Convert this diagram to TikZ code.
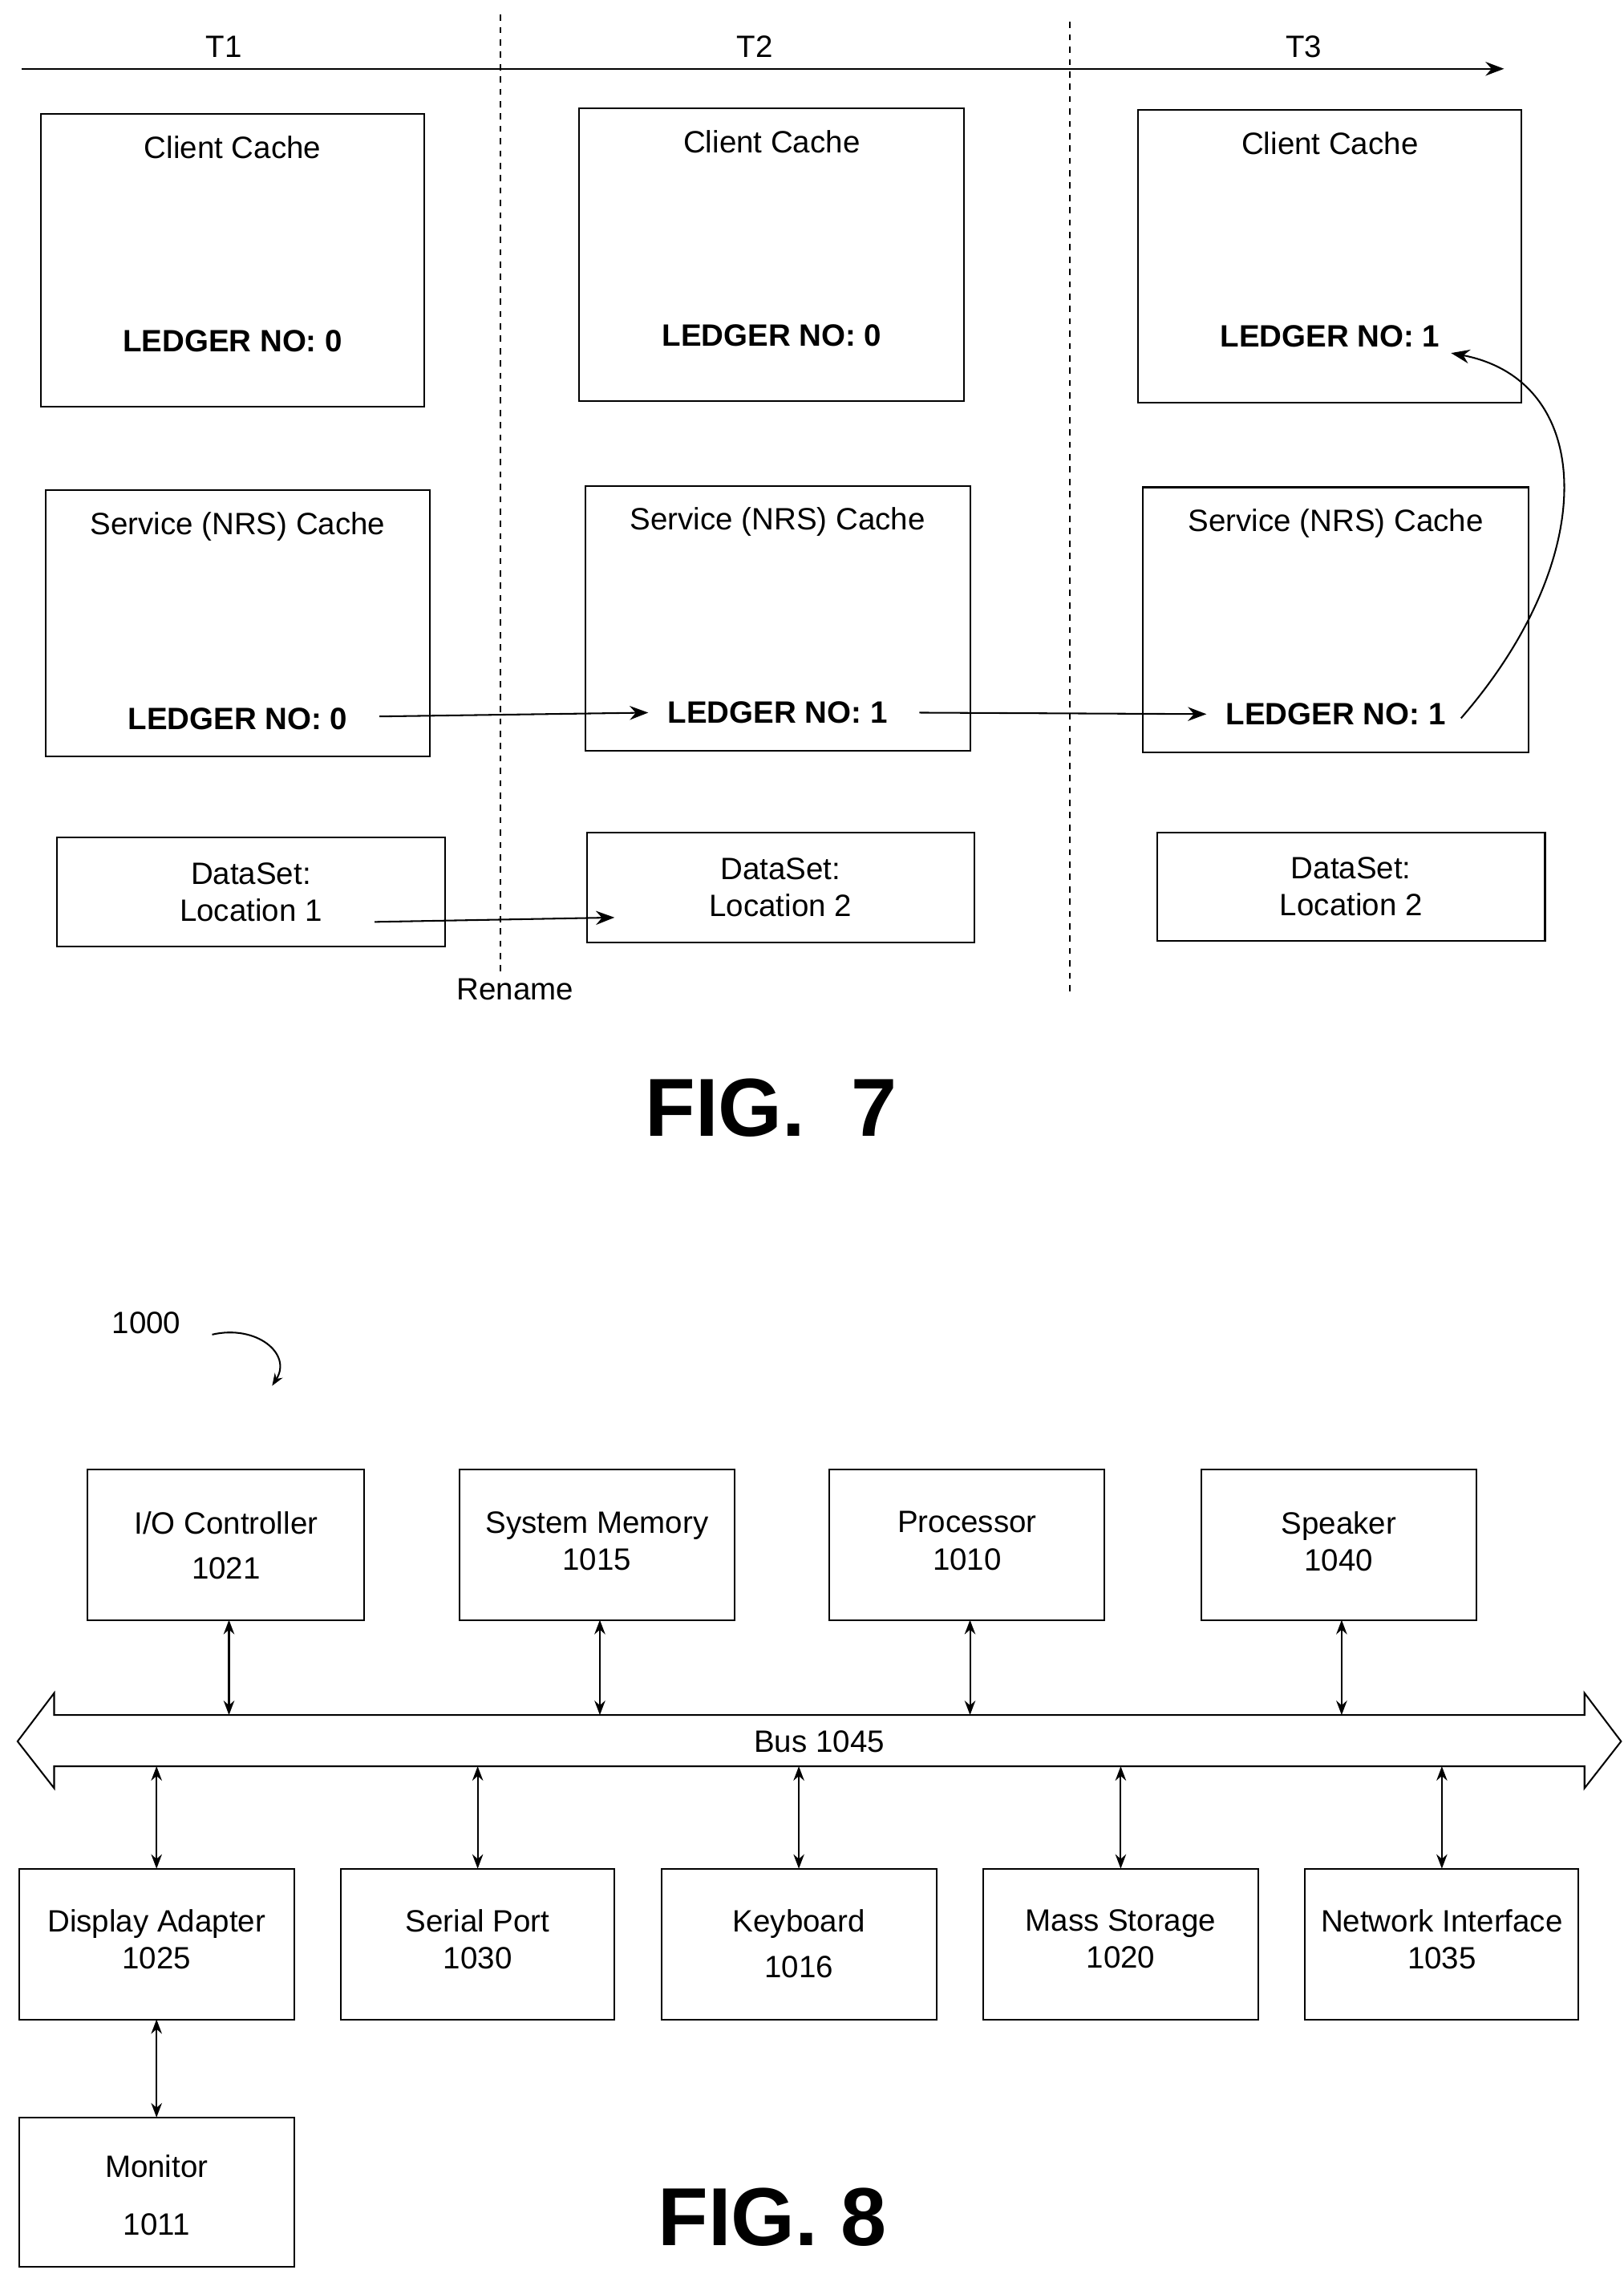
\documentclass[tikz,border=0pt]{standalone}
\usepackage{fontspec}
\setmainfont{Liberation Sans}
\usetikzlibrary{arrows.meta,positioning}
\tikzset{
  box/.style={draw, thick, inner sep=0pt},
  lbl/.style={font=\fontsize{15}{18}\selectfont},
  ledger/.style={font=\fontsize{15}{18}\selectfont\bfseries},
  arr/.style={thick, -{Stealth[length=9pt]}},
  darr/.style={thick, {Stealth[length=7pt]}-{Stealth[length=7pt]}},
  fig/.style={font=\fontsize{40}{44}\selectfont\bfseries}
}
\begin{document}
\begin{tikzpicture}[x=0.025cm, y=-0.025cm]
\useasboundingbox (0,0) rectangle (1110,1554);

% FIG. 7
\coordinate (tl) at (15,47);
\coordinate (tr) at (1028,47);
\draw[arr] (tl) -- (tr);
\node[lbl] (t1) at (153,32) {T1};
\node[lbl] (t2) at (516,32) {T2};
\node[lbl] (t3) at (891,32) {T3};
\draw[thick, dashed] (342,10) -- (342,665);
\draw[thick, dashed] (731,15) -- (731,678);

\foreach \n/\xa/\ya/\xb/\yb/\v in {1/28/78/290/278/0, 2/396/74/659/274/0, 3/778/75/1040/275/1}{
  \draw[box] (\xa,\ya) rectangle (\xb,\yb);
  \node[lbl, anchor=north] (cc\n) at ({(\xa+\xb)/2},\ya+10) {Client Cache};
  \node[ledger] (cl\n) at ({(\xa+\xb)/2},\yb-45) {LEDGER NO: \v};
}
\foreach \n/\xa/\ya/\xb/\yb/\v in {1/31/335/294/517/0, 2/400/332/663/513/1, 3/781/333/1045/514/1}{
  \draw[box] (\xa,\ya) rectangle (\xb,\yb);
  \node[lbl, anchor=north] (sc\n) at ({(\xa+\xb)/2},\ya+10) {Service (NRS) Cache};
  \node[ledger] (sl\n) at ({(\xa+\xb)/2},\yb-26) {LEDGER NO: \v};
}
\foreach \n/\xa/\ya/\xb/\yb/\loc in {1/39/572/304/647/1, 2/401/569/666/644/2, 3/791/569/1056/643/2}{
  \draw[box] (\xa,\ya) rectangle (\xb,\yb);
  \node[lbl, align=center] (ds\n) at ({(\xa+\xb)/2},{(\ya+\yb)/2}) {DataSet:\\Location \loc};
}
\draw[arr] ([xshift=12pt,yshift=1pt]sl1.east) -- ([xshift=-6pt]sl2.west);
\draw[arr] ([xshift=12pt]sl2.east) -- ([xshift=-6pt]sl3.west);
\draw[arr] ([xshift=4pt,yshift=-2pt]sl3.east) .. controls (1095,380) and (1090,260) .. ([xshift=2pt,yshift=-8pt]cl3.east);
\coordinate (dsa) at (256,630);
\coordinate (dsb) at (420,627);
\draw[arr] (dsa) -- (dsb);
\node[lbl] (rename) at (352,676) {Rename};
\node[fig] (fig7) at (527,757) {FIG.\ \ 7};

% FIG. 8
\node[lbl] (ref) at (100,904) {1000};
\coordinate (refend) at (186,947);
\draw[thick, -{Stealth[length=6pt]}] (145,912) .. controls (175,905) and (200,925) .. (refend);

\draw[thick] (12,1190) -- (37,1157) -- (37,1172) -- (1083,1172) -- (1083,1157)
  -- (1108,1190) -- (1083,1222) -- (1083,1207) -- (37,1207) -- (37,1222) -- cycle;
\node[lbl] (bus) at (560,1190) {Bus 1045};

\foreach \n/\xa/\xb/\t in {io/60/249/{I/O Controller\\[4pt]1021}, mem/314/502/{System Memory\\1015},
    cpu/567/755/{Processor\\1010}, spk/821/1009/{Speaker\\1040}}{
  \draw[box] (\xa,1004) rectangle (\xb,1107);
  \node[lbl, align=center, anchor=north] (\n) at ({(\xa+\xb)/2},1028) {\t};
  \draw[darr] ({(\xa+\xb)/2+2},1107) -- ({(\xa+\xb)/2+2},1172);
}
\foreach \n/\xa/\xb/\t in {disp/13/201/{Display Adapter\\1025}, ser/233/420/{Serial Port\\1030},
    kbd/452/640/{Keyboard\\[4pt]1016}, mass/672/860/{Mass Storage\\1020}, net/892/1079/{Network Interface\\1035}}{
  \draw[box] (\xa,1277) rectangle (\xb,1380);
  \node[lbl, align=center, anchor=north] (\n) at ({(\xa+\xb)/2},1300) {\t};
  \draw[darr] ({(\xa+\xb)/2},1207) -- ({(\xa+\xb)/2},1277);
}
\draw[box] (13,1447) rectangle (201,1549);
\node[lbl, align=center] (mon) at (107,1500) {Monitor\\[10pt]1011};
\draw[darr] (107,1380) -- (107,1447);
\node[fig] (fig8) at (528,1515) {FIG. 8};
\end{tikzpicture}
\end{document}
